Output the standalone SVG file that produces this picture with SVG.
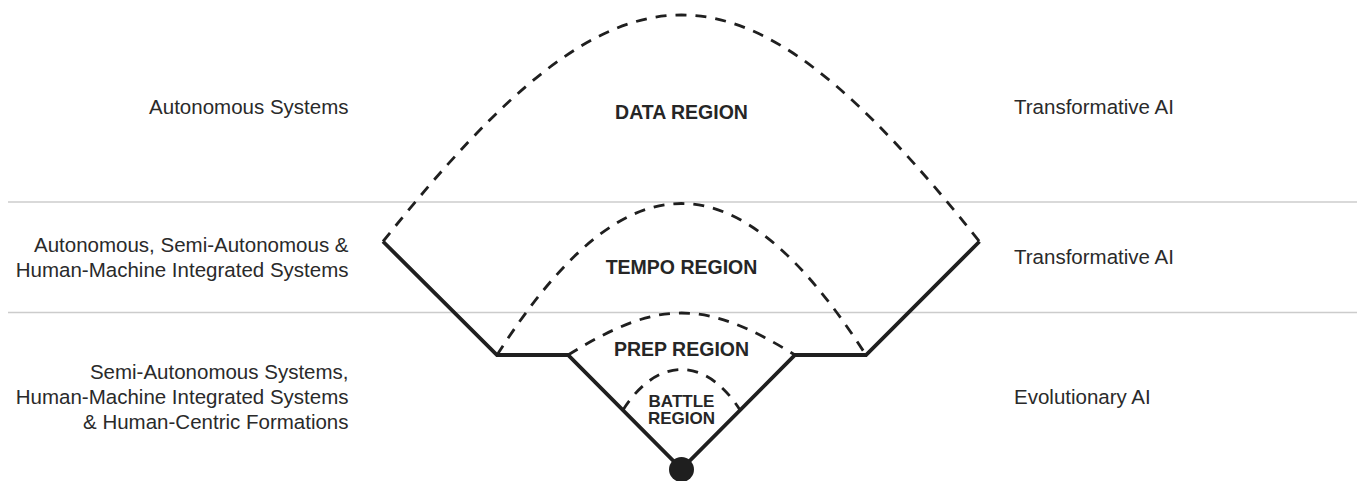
<svg xmlns="http://www.w3.org/2000/svg" width="1357" height="481" viewBox="0 0 1357 481">
<defs>
<style>
.bg{fill:#ffffff}
.grid{stroke:#cccccc;stroke-width:1.5;fill:none}
.solid{stroke:#1f1f1f;stroke-width:3.8;fill:none;stroke-linejoin:miter}
.dash{stroke:#1f1f1f;stroke-width:2.8;fill:none;stroke-dasharray:11 9}
.side{font-family:"Liberation Sans",Arial,sans-serif;font-size:20.5px;fill:#2a2a2a}
.lab{font-family:"Liberation Sans",Arial,sans-serif;font-weight:bold;font-size:19.5px;fill:#262626;text-anchor:middle}
.lab2{font-family:"Liberation Sans",Arial,sans-serif;font-weight:bold;font-size:17px;fill:#262626;text-anchor:middle}
</style>
</defs>
<rect class="bg" x="0" y="0" width="1357" height="481"/>
<g id="gridlines">
<line class="grid" x1="8" y1="202" x2="1357" y2="202"/>
<line class="grid" x1="8" y1="312.5" x2="1357" y2="312.5"/>
</g>
<g id="connectors">
<path class="solid" d="M383,241.5 L497,355 L568,355 L681.5,469 L795,355 L866,355 L979.5,241.5"/>
<circle cx="681.5" cy="469.5" r="12.5" fill="#1f1f1f"/>
</g>
<g id="data-region">
<path class="dash" d="M383,241.5 C624,-60.5 739,-60.5 979.5,241.5"/>
<text class="lab" x="681.5" y="119">DATA REGION</text>
</g>
<g id="tempo-region">
<path class="dash" d="M497,355 C626.5,153 736,153 866,355"/>
<text class="lab" x="681.5" y="274">TEMPO REGION</text>
</g>
<g id="prep-region">
<path class="dash" d="M568,355 C658.5,299 704.5,299 795,355"/>
<text class="lab" x="681.5" y="356">PREP REGION</text>
</g>
<g id="battle-region">
<path class="dash" d="M623,410 C657.5,356 705.5,356 740,410"/>
<text class="lab2" x="681.5" y="406.5">BATTLE</text>
<text class="lab2" x="681.5" y="424">REGION</text>
</g>
<g id="left-labels" text-anchor="end">
<text class="side" x="348.5" y="114">Autonomous Systems</text>
<text class="side" x="348.5" y="251.5">Autonomous, Semi-Autonomous &amp;</text>
<text class="side" x="348.5" y="276.5">Human-Machine Integrated Systems</text>
<text class="side" x="348.5" y="378.5">Semi-Autonomous Systems,</text>
<text class="side" x="348.5" y="404">Human-Machine Integrated Systems</text>
<text class="side" x="348.5" y="429">&amp; Human-Centric Formations</text>
</g>
<g id="right-labels">
<text class="side" x="1014" y="114">Transformative AI</text>
<text class="side" x="1014" y="263.5">Transformative AI</text>
<text class="side" x="1014" y="404">Evolutionary AI</text>
</g>
</svg>
